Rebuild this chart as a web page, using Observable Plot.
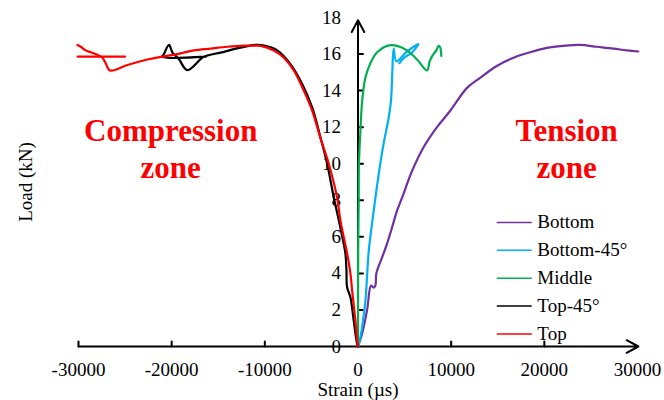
<!DOCTYPE html>
<html>
<head>
<meta charset="utf-8">
<script src="https://cdn.jsdelivr.net/npm/d3@7"></script>
<script src="https://cdn.jsdelivr.net/npm/@observablehq/plot@0.6"></script>
<style>
  html, body { margin: 0; padding: 0; background: #fff; }
</style>
</head>
<body>
<div id="chart"></div>
<script>
// ---- Data (strain in µs, load in kN) ----
const seriesNames = ["Bottom", "Bottom-45°", "Middle", "Top-45°", "Top"];
const seriesColors = ["#7030A0", "#00B0F0", "#00B050", "#000000", "#FF0000"];

const bottom = [
  [0,0],[440,0.7],[975,2.0],[1400,3.33],[1680,3.22],[1865,3.33],[1970,4.0],
  [2580,4.86],[3120,5.63],[3650,6.5],[4190,7.43],[4730,8.14],[5800,9.6],
  [7040,10.9],[8480,12.0],[9900,12.9],[11700,14.15],[13100,14.7],[14900,15.35],
  [16700,15.8],[18480,16.1],[20270,16.34],[22050,16.45],[23840,16.5],
  [25630,16.4],[27410,16.3],[28850,16.2],[30090,16.14]
];
const bottom45 = [
  [0,0],[257,0.5],[790,2.5],[1150,5.2],[1680,7.4],[2330,9.8],[2750,11.1],
  [3290,12.5],[3530,13.4],[3630,14.3],[3690,15.1],[3830,16.3],[4120,15.6],
  [5190,16.1],[6470,16.55],[5830,16.1],[4970,15.8],[4440,15.5]
];
const middle = [
  [0,0],[0,2.5],[20,5.2],[75,8.0],[100,10.0],[260,11.8],[440,13.4],[790,14.7],
  [1330,15.5],[2050,16.1],[3120,16.45],[4190,16.45],[5260,16.2],[6340,15.7],
  [7410,15.1],[7690,15.6],[7980,15.9],[8400,16.2],[8650,16.45],[8830,16.35],[8940,15.9]
];
const top45 = [
  [0,0],[-100,0.16],[-460,1.42],[-815,2.7],[-1170,3.24],[-1240,4.15],[-1350,5.08],
  [-1890,6.5],[-2600,8.16],[-3310,10.0],[-4030,11.44],[-4920,13.08],[-5990,14.36],
  [-7250,15.45],[-8670,16.2],[-9930,16.45],[-11000,16.5],[-12610,16.35],
  [-14750,16.08],[-16540,15.85],[-18320,15.12],[-19250,15.74],[-19900,16.07],
  [-20290,16.5],[-20830,16.0],[-21000,15.86],[-16330,15.86]
];
const topMain = [
  [0,0],[-30,0.05],[-280,1.42],[-630,3.06],[-815,4.0],[-1170,5.1],[-1890,6.9],
  [-2240,8.14],[-3140,10.0],[-4030,11.4],[-4920,12.9],[-5820,14.0],[-6890,15.1],
  [-7960,15.8],[-9040,16.2],[-10460,16.45],[-11180,16.46],[-12250,16.46],
  [-14030,16.4],[-15820,16.3],[-17610,16.2],[-19390,16.0],[-21180,15.85],
  [-22610,15.7],[-24750,15.4],[-26620,15.1],[-27080,15.5],[-27430,15.8],
  [-27970,15.96],[-28690,16.1],[-29220,16.2],[-29760,16.4],[-30110,16.5]
];
const topFlat = [[-30100,15.86],[-25000,15.86]];

const xTickValues = [-30000, -20000, -10000, 10000, 20000];
const xTickLabels = [-30000, -20000, -10000, 0, 10000, 20000, 30000];
const yTickValues = [2, 4, 6, 8, 10, 12, 14, 16];
const yTickLabels = [0, 2, 4, 6, 8, 10, 12, 14, 16, 18];
const xTitle = "Strain (µs)";
const yTitle = "Load (kN)";
const zoneLabels = [
  {text: "Compression", x: -20100, y: 11.26},
  {text: "zone", x: -20100, y: 9.23},
  {text: "Tension", x: 22400, y: 11.26},
  {text: "zone", x: 22400, y: 9.23}
];

// ---- Build table ----
const seriesData = [bottom, bottom45, middle, top45, topMain];
const rows = [];
seriesData.forEach((arr, i) => arr.forEach(([x, y]) => rows.push({series: seriesNames[i], seg: seriesNames[i], x, y})));
topFlat.forEach(([x, y]) => rows.push({series: "Top", seg: "Top-flat", x, y}));

const legendRows = seriesNames.map((name, i) => ({name, color: seriesColors[i], y: 6.79 - i * 1.525}));

const tickShape = { draw(context, l) { context.moveTo(0, 0); context.lineTo(0, -l); } };

const chart = Plot.plot({
  width: 664,
  height: 400,
  marginLeft: 78,
  marginRight: 27,
  marginTop: 17,
  marginBottom: 54,
  style: { fontFamily: "'Liberation Serif', 'Times New Roman', serif", fontSize: "19px", background: "#fff", color: "#000" },
  x: { domain: [-30000, 30000], axis: null },
  y: { domain: [0, 18], axis: null },
  color: { domain: seriesNames, range: seriesColors },
  marks: [
    // axes lines with arrows
    Plot.arrow([0], { x1: -30000, y1: 0, x2: 30100, y2: 0, stroke: "#000", strokeWidth: 2, headLength: 10, headAngle: 56 }),
    Plot.arrow([0], { x1: 0, y1: 0, x2: 0, y2: 17.85, stroke: "#000", strokeWidth: 2, headLength: 10, headAngle: 56 }),
    // ticks
    Plot.vector(xTickValues, { x: d => d, y: 0, length: 5, rotate: 0, anchor: "start", shape: tickShape, stroke: "#000", strokeWidth: 2 }),
    Plot.vector(yTickValues, { x: 0, y: d => d, length: 5, rotate: 90, anchor: "start", shape: tickShape, stroke: "#000", strokeWidth: 2 }),
    // tick labels
    Plot.text(xTickLabels, { x: d => d, y: 0, text: d => String(d), dy: 23, fontSize: 19, fill: "#000" }),
    Plot.text(yTickLabels, { x: 0, y: d => d, text: d => String(d), dx: -17, textAnchor: "end", fontSize: 19, fill: "#000" }),
    // axis titles
    Plot.text([xTitle], { x: 0, frameAnchor: "bottom", lineAnchor: "middle", textAnchor: "middle", dy: 43, fontSize: 19, fill: "#000" }),
    Plot.text([yTitle], { frameAnchor: "left", textAnchor: "middle", lineAnchor: "middle", dx: -53, rotate: -90, fontSize: 19, fill: "#000" }),
    // curves
    Plot.line(rows, { x: "x", y: "y", z: "seg", stroke: "series", strokeWidth: 2.2, curve: "catmull-rom", strokeLinejoin: "round", strokeLinecap: "round" }),
    // zone labels
    Plot.text(zoneLabels, { x: "x", y: "y", text: "text", lineAnchor: "bottom", fill: "#FF0000", fontWeight: "bold", fontSize: 31 }),
    // legend
    Plot.ruleY(legendRows, { y: "y", x1: 14950, x2: 18700, stroke: "color", strokeWidth: 1.5 }),
    Plot.text(legendRows, { x: 19250, y: "y", text: "name", textAnchor: "start", fontSize: 19, fill: "#000" })
  ]
});
document.getElementById("chart").appendChild(chart);
</script>
</body>
</html>
